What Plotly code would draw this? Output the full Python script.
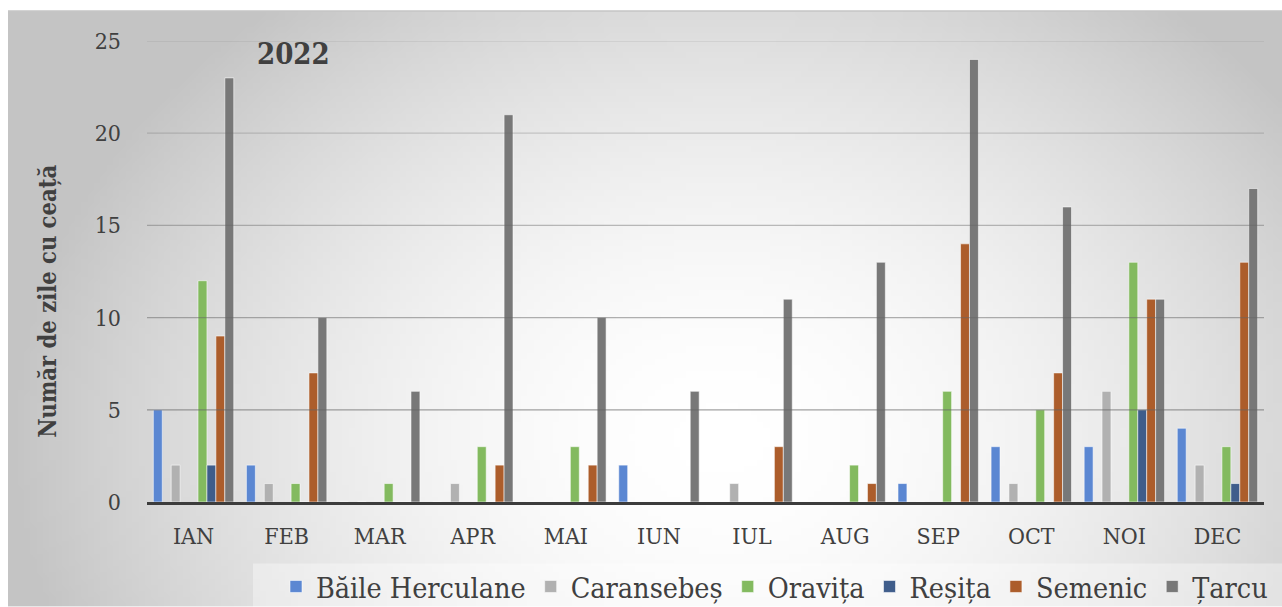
import base64
import struct
import zlib

import plotly.graph_objects as go

# ---- data: days with fog per month, 2022 ----
months = ["IAN", "FEB", "MAR", "APR", "MAI", "IUN",
          "IUL", "AUG", "SEP", "OCT", "NOI", "DEC"]

baile_herculane = [5, 2, 0, 0, 0, 2, 0, 0, 1, 3, 3, 4]
caransebes      = [2, 1, 0, 1, 0, 0, 1, 0, 0, 1, 6, 2]
oravita         = [12, 1, 1, 3, 3, 0, 0, 2, 6, 5, 13, 3]
resita          = [2, 0, 0, 0, 0, 0, 0, 0, 0, 0, 5, 1]
semenic         = [9, 7, 0, 2, 2, 0, 3, 1, 14, 7, 11, 13]
tarcu           = [23, 10, 6, 21, 10, 6, 11, 13, 24, 16, 11, 17]

station_names = ["Băile Herculane", "Caransebeș", "Oravița",
                 "Reșița", "Semenic", "Țarcu"]
y_ticks = [0, 5, 10, 15, 20, 25]

# ---- style ----
colors = ["#5B87D2", "#B1B1B1", "#83BA5F", "#3F5D8B", "#AC5D2B", "#787878"]
slots = [0, 2, 5, 6, 7, 8]          # position of each station inside a month group
slot_w = 0.096                       # width of one slot, in category units
grid_alpha = {5: 0.6, 10: 0.5, 15: 0.42, 20: 0.28, 25: 0.14}
FONT = "DejaVu Serif Condensed, DejaVu Serif, serif"
TXT = "#404040"

W, H = 1282, 607
M_L, M_R, M_T, M_B = 147, 18, 41, 104.5


def gradient_png(w, h):
    """Soft radial gray-to-white fill used as the chart backdrop."""
    cx, cy, rx, ry = 0.56, 0.72, 0.56, 0.95
    rows = []
    for j in range(h):
        row = bytearray([0])
        v = j / (h - 1)
        for i in range(w):
            u = i / (w - 1)
            t = (((u - cx) / rx) ** 2 + ((v - cy) / ry) ** 2) ** 0.5
            t = min(t, 1.0) ** 1.8
            g = int(round(255 - (255 - 196) * t))
            row += bytes((g, g, g))
        rows.append(bytes(row))
    raw = b"".join(rows)

    def chunk(tag, data):
        c = struct.pack(">I", len(data)) + tag + data
        return c + struct.pack(">I", zlib.crc32(tag + data) & 0xFFFFFFFF)

    png = b"\x89PNG\r\n\x1a\n"
    png += chunk(b"IHDR", struct.pack(">IIBBBBB", w, h, 8, 2, 0, 0, 0))
    png += chunk(b"IDAT", zlib.compress(raw, 9))
    png += chunk(b"IEND", b"")
    return "data:image/png;base64," + base64.b64encode(png).decode()


series = [baile_herculane, caransebes, oravita, resita, semenic, tarcu]

fig = go.Figure()
for name, vals, col, slot in zip(station_names, series, colors, slots):
    fig.add_trace(go.Bar(
        x=months, y=vals, name=name,
        width=slot_w, offset=-4.5 * slot_w + slot * slot_w,
        marker=dict(color=col, line=dict(color="rgba(255,255,255,0.55)", width=1)),
    ))

pw = W - M_L - M_R
ph = H - M_T - M_B


def px_x(x):
    return (x - M_L) / pw


def px_y(y):
    return (H - M_B - y) / ph


# gridlines, drawn over the bars with a light transparent stroke
shapes = []
for v, a in grid_alpha.items():
    shapes.append(dict(type="line", xref="paper", yref="y", x0=0, x1=1, y0=v, y1=v,
                       line=dict(color=f"rgba(100,100,100,{a})", width=1.3), layer="above"))
# frame top edge
shapes.append(dict(type="line", xref="paper", yref="paper",
                   x0=px_x(8), x1=px_x(W + 5), y0=px_y(11), y1=px_y(11),
                   line=dict(color="#c4c4c4", width=1.5), layer="below"))
# pale panel behind the legend
shapes.append(dict(type="rect", xref="paper", yref="paper",
                   x0=px_x(253), x1=px_x(W + 5), y0=px_y(564), y1=px_y(H + 5),
                   fillcolor="rgba(255,255,255,0.35)", line=dict(width=0), layer="below"))

fig.update_layout(
    width=W, height=H,
    margin=dict(l=M_L, r=M_R, t=M_T, b=M_B, pad=0, autoexpand=False),
    paper_bgcolor="white",
    plot_bgcolor="rgba(0,0,0,0)",
    barmode="overlay",
    showlegend=True,
    font=dict(family=FONT, color=TXT, size=24),
    images=[dict(
        source=gradient_png(200, 95), xref="paper", yref="paper",
        x=px_x(8), y=px_y(11),
        sizex=(W - 8) / pw, sizey=(H - 11) / ph,
        xanchor="left", yanchor="top", sizing="stretch", layer="below",
    )],
    shapes=shapes,
    xaxis=dict(
        type="category", showgrid=False, zeroline=False,
        showline=True, linecolor="#3c3c3c", linewidth=2.5,
        ticks="", tickfont=dict(size=23, color=TXT, family=FONT),
        ticklabelstandoff=12, range=[-0.5, 11.5],
    ),
    yaxis=dict(
        range=[0, 25], tickvals=y_ticks, showgrid=False, zeroline=False,
        showline=False, ticks="", tickfont=dict(size=23, color=TXT, family=FONT),
        ticklabelstandoff=25,
    ),
    legend=dict(
        orientation="h", x=px_x(276), xanchor="left",
        y=px_y(562), yanchor="top",
        bgcolor="rgba(0,0,0,0)", borderwidth=0,
        font=dict(size=28.5, color=TXT, family=FONT),
        itemwidth=30, tracegroupgap=0,
    ),
    annotations=[
        dict(text="<b>2022</b>", xref="paper", yref="paper",
             x=px_x(293), y=px_y(54),
             xanchor="center", yanchor="middle",
             showarrow=False, font=dict(size=29, color=TXT, family=FONT)),
        dict(text="<b>Număr de zile cu ceață</b>", xref="paper", yref="paper",
             x=px_x(48), y=px_y(302), textangle=-90,
             xanchor="center", yanchor="middle",
             showarrow=False, font=dict(size=23.5, color=TXT, family=FONT)),
    ],
)

fig.write_html("out.html")
